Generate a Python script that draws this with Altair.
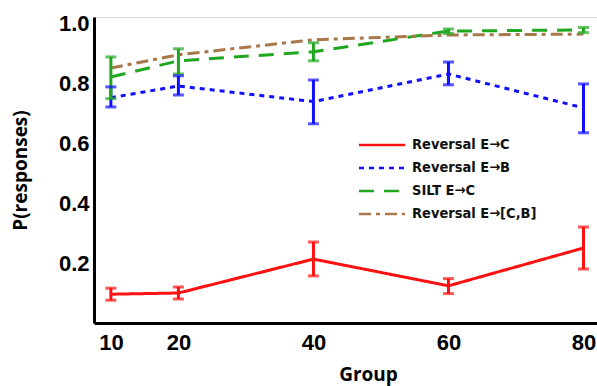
import altair as alt
import pandas as pd

groups = [10, 20, 40, 60, 80]
series_names = ["Reversal E\u2192C", "Reversal E\u2192B", "SILT E\u2192C", "Reversal E\u2192[C,B]"]

rev_ec = [0.096, 0.100, 0.213, 0.124, 0.250]
rev_ec_lo = [0.076, 0.080, 0.157, 0.098, 0.180]
rev_ec_hi = [0.116, 0.120, 0.270, 0.148, 0.320]

rev_eb = [0.751, 0.790, 0.738, 0.830, 0.717]
rev_eb_lo = [0.720, 0.760, 0.664, 0.794, 0.634]
rev_eb_hi = [0.787, 0.824, 0.810, 0.870, 0.797]

silt_ec = [0.820, 0.874, 0.904, 0.973, 0.977]
silt_ec_lo = [0.748, 0.830, 0.874, 0.965, 0.968]
silt_ec_hi = [0.887, 0.914, 0.934, 0.980, 0.985]

rev_ecb = [0.850, 0.894, 0.944, 0.960, 0.963]

colors = ["#ff1010", "#1010ff", "#1fa81f", "#a8784a"]
dashes = [[1, 0], [5, 5], [15, 10], [12, 5, 4, 5]]

rows = []
for name, vals in zip(series_names, [rev_ec, rev_eb, silt_ec, rev_ecb]):
    for g, v in zip(groups, vals):
        rows.append({"group": g, "p": v, "series": name})
lines_df = pd.DataFrame(rows)

err_rows = []
for name, lo, hi in zip(series_names[:3], [rev_ec_lo, rev_eb_lo, silt_ec_lo], [rev_ec_hi, rev_eb_hi, silt_ec_hi]):
    for g, a, b in zip(groups, lo, hi):
        err_rows.append({"group": g, "lo": a, "hi": b, "series": name})
err_df = pd.DataFrame(err_rows)

xscale = alt.Scale(domain=[7.5, 82], nice=False, zero=False)
yscale = alt.Scale(domain=[0, 1.02], nice=False, zero=False)
cscale = alt.Scale(domain=series_names, range=colors)
dscale = alt.Scale(domain=series_names, range=dashes)

xaxis = alt.Axis(values=groups, title="Group", format="d", grid=False, ticks=False,
                 labelFont="Liberation Sans", labelFontWeight="bold", labelFontSize=22,
                 labelColor="black", labelPadding=9,
                 titleFont="Open Sans", titleFontWeight="bold", titleFontSize=19,
                 titleColor="black", titlePadding=12, titleX=274,
                 domainColor="black", domainWidth=3)
yaxis = alt.Axis(values=[0.2, 0.4, 0.6, 0.8, 1.0], title="P(responses)", format=".1f",
                 grid=False, ticks=False,
                 labelFont="Liberation Sans", labelFontWeight="bold", labelFontSize=22,
                 labelColor="black", labelPadding=5,
                 titleFont="Open Sans", titleFontWeight="bold", titleFontSize=19,
                 titleColor="black", titlePadding=28,
                 domainColor="black", domainWidth=3)

legend = alt.Legend(title=None, orient="none", legendX=279, legendY=119,
                    symbolType="M-3,0H3", symbolSize=235, symbolStrokeWidth=2.5,
                    labelFont="DejaVu Sans Condensed, DejaVu Sans", labelFontWeight="bold",
                    labelFontSize=14.5, labelColor="#111111", rowPadding=7, labelOffset=21)

lines = alt.Chart(lines_df).mark_line(strokeWidth=3).encode(
    x=alt.X("group:Q", scale=xscale, axis=xaxis),
    y=alt.Y("p:Q", scale=yscale, axis=yaxis),
    color=alt.Color("series:N", scale=cscale, legend=legend, sort=series_names),
    strokeDash=alt.StrokeDash("series:N", scale=dscale, legend=legend, sort=series_names),
)

bars = alt.Chart(err_df).mark_rule(strokeWidth=3).encode(
    x=alt.X("group:Q", scale=xscale),
    y=alt.Y("lo:Q", scale=yscale),
    y2="hi:Q",
    color=alt.Color("series:N", scale=cscale, legend=None),
)
cap_lo = alt.Chart(err_df).mark_tick(thickness=3, size=11, orient="horizontal").encode(
    x=alt.X("group:Q", scale=xscale),
    y=alt.Y("lo:Q", scale=yscale),
    color=alt.Color("series:N", scale=cscale, legend=None),
)
cap_hi = alt.Chart(err_df).mark_tick(thickness=3, size=11, orient="horizontal").encode(
    x=alt.X("group:Q", scale=xscale),
    y=alt.Y("hi:Q", scale=yscale),
    color=alt.Color("series:N", scale=cscale, legend=None),
)

chart = alt.layer(lines, bars, cap_lo, cap_hi).properties(
    width=503, height=306,
    autosize=alt.AutoSizeParams(type="none"),
    padding={"left": 94, "top": 17, "right": 0, "bottom": 63},
).configure_view(stroke=None).configure(background="white")

chart.save("out.html", embed_options={"renderer": "svg", "actions": False})
